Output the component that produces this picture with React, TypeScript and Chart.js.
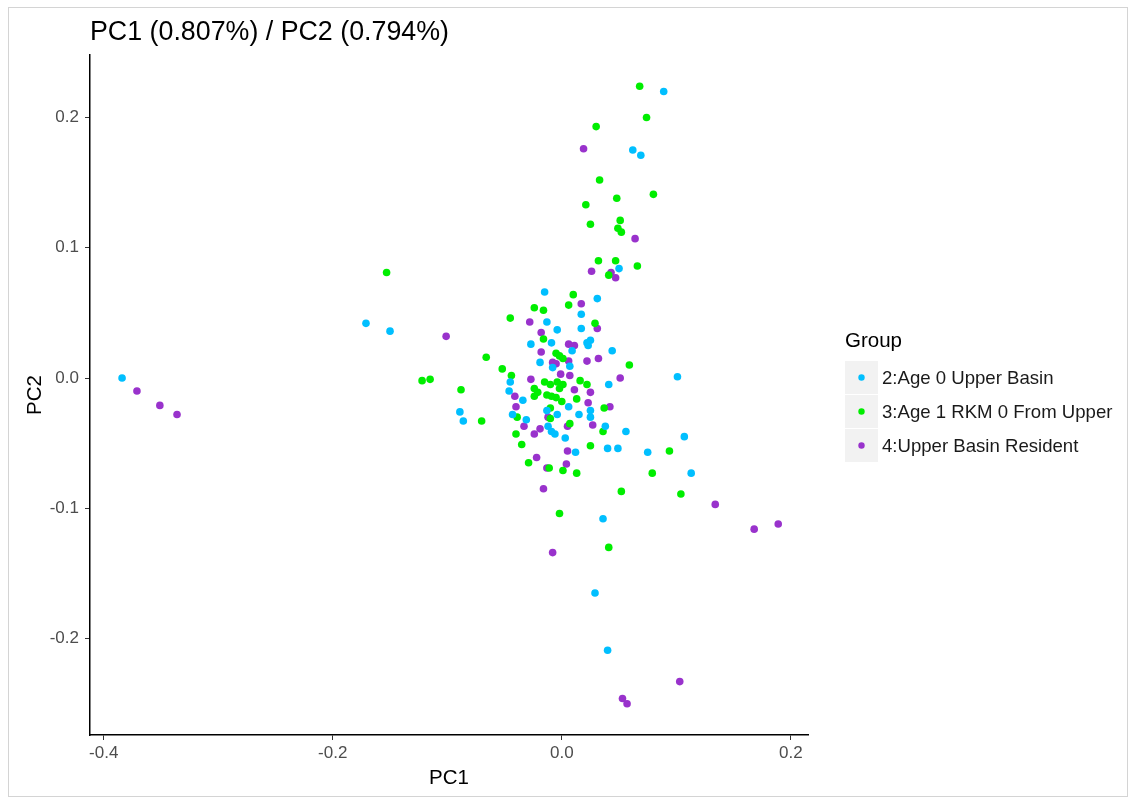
import React, { useEffect, useRef } from "react";
import { Chart, registerables } from "chart.js";

Chart.register(...registerables);

const FONT = '"Liberation Sans", Arial, Helvetica, sans-serif';

const chartTitle = "PC1 (0.807%) / PC2 (0.794%)";
const xAxisTitle = "PC1";
const yAxisTitle = "PC2";
const legendTitle = "Group";

const groupLabels = ["2:Age 0 Upper Basin", "3:Age 1 RKM 0 From Upper", "4:Upper Basin Resident"];
const groupColors = ["#00BFFF", "#00EE00", "#9932CC"];

const xTicks = [-0.4, -0.2, 0.0, 0.2];
const yTicks = [-0.2, -0.1, 0.0, 0.1, 0.2];
const xRange = [-0.412, 0.215];
const yRange = [-0.274, 0.248];

// 2:Age 0 Upper Basin
const blueX = [-0.015, 0.031, 0.017, -0.013, -0.004, 0.017, -0.027, -0.009, 0.022, 0.025, 0.023, 0.009, 0.044, -0.019, -0.008, 0.007, -0.045, -0.046, -0.034, 0.041, 0.006, -0.013, -0.004, 0.015, 0.025, 0.025, -0.043, -0.031, -0.012, -0.009, -0.006, 0.003, 0.038, 0.056, 0.040, 0.049, 0.012, 0.075, 0.089, 0.062, 0.069, 0.050, -0.384, -0.171, -0.150, -0.089, -0.086, 0.101, 0.107, 0.113, 0.036, 0.029, 0.040];
const blueY = [0.066, 0.061, 0.049, 0.043, 0.037, 0.038, 0.026, 0.027, 0.027, 0.029, 0.025, 0.021, 0.021, 0.012, 0.008, 0.009, -0.003, -0.010, -0.017, -0.005, -0.022, -0.025, -0.028, -0.028, -0.025, -0.030, -0.028, -0.032, -0.037, -0.041, -0.043, -0.046, -0.037, -0.041, -0.054, -0.054, -0.057, -0.057, 0.220, 0.175, 0.171, 0.084, 0.000, 0.042, 0.036, -0.026, -0.033, 0.001, -0.045, -0.073, -0.108, -0.165, -0.209];

// 3:Age 1 RKM 0 From Upper
const greenX = [0.010, -0.024, -0.016, 0.006, -0.045, 0.029, -0.016, -0.005, -0.002, 0.001, -0.066, -0.052, -0.044, 0.059, -0.015, -0.010, -0.004, 0.001, -0.002, -0.024, -0.021, 0.016, -0.024, -0.013, -0.009, -0.005, 0.000, 0.013, 0.022, -0.010, -0.070, 0.037, -0.039, -0.010, 0.007, 0.036, -0.040, -0.035, 0.025, -0.029, 0.001, 0.013, -0.011, 0.068, 0.074, 0.030, 0.033, 0.048, 0.080, 0.021, 0.025, 0.051, 0.049, 0.052, 0.032, 0.047, 0.066, 0.041, -0.153, -0.122, -0.115, -0.088, 0.094, 0.079, 0.052, 0.104, -0.002, 0.041];
const greenY = [0.064, 0.054, 0.052, 0.056, 0.046, 0.042, 0.030, 0.019, 0.017, 0.015, 0.016, 0.007, 0.002, 0.010, -0.003, -0.005, -0.003, -0.005, -0.008, -0.008, -0.011, -0.002, -0.014, -0.013, -0.014, -0.015, -0.018, -0.016, -0.005, -0.023, -0.033, -0.023, -0.030, -0.031, -0.035, -0.041, -0.043, -0.051, -0.052, -0.065, -0.071, -0.073, -0.069, 0.224, 0.200, 0.193, 0.152, 0.138, 0.141, 0.133, 0.118, 0.121, 0.115, 0.112, 0.090, 0.090, 0.086, 0.079, 0.081, -0.002, -0.001, -0.009, -0.056, -0.073, -0.087, -0.089, -0.104, -0.130];

// 4:Upper Basin Resident
const purpleX = [0.017, -0.028, 0.031, -0.018, 0.006, 0.011, -0.018, -0.008, -0.005, 0.006, 0.022, 0.032, -0.001, 0.007, -0.027, 0.051, 0.011, 0.025, -0.041, -0.040, 0.023, 0.042, -0.012, 0.027, 0.005, -0.033, -0.019, -0.024, 0.005, -0.022, 0.004, -0.013, 0.019, 0.064, 0.026, 0.043, 0.047, -0.371, -0.351, -0.336, -0.101, 0.134, 0.168, 0.189, -0.016, -0.008, 0.103, 0.053, 0.057];
const purpleY = [0.057, 0.043, 0.038, 0.035, 0.026, 0.025, 0.020, 0.012, 0.011, 0.013, 0.013, 0.015, 0.003, 0.002, -0.001, 0.000, -0.009, -0.011, -0.014, -0.022, -0.019, -0.022, -0.030, -0.036, -0.037, -0.037, -0.039, -0.043, -0.056, -0.061, -0.066, -0.069, 0.176, 0.107, 0.082, 0.081, 0.077, -0.010, -0.021, -0.028, 0.032, -0.097, -0.116, -0.112, -0.085, -0.134, -0.233, -0.246, -0.250];

const groupXs = [blueX, greenX, purpleX];
const groupYs = [blueY, greenY, purpleY];

const ggLegend = {
  id: "ggLegend",
  afterDraw(chart: any) {
    const { ctx, chartArea } = chart;
    const mid = (chartArea.top + chartArea.bottom) / 2;
    const left = chartArea.right + 37;
    ctx.save();
    ctx.textAlign = "left";
    ctx.textBaseline = "middle";
    ctx.fillStyle = "#000000";
    ctx.font = `20.5px ${FONT}`;
    ctx.fillText(legendTitle, left, mid - 53.5);
    chart.data.datasets.forEach((ds: any, i: number) => {
      const top = mid - 34 + i * 34;
      ctx.fillStyle = "#F2F2F2";
      ctx.fillRect(left, top, 33, 33);
      const cy = top + 16.5;
      ctx.beginPath();
      ctx.arc(left + 16.5, cy, 3.2, 0, Math.PI * 2);
      ctx.fillStyle = ds.backgroundColor;
      ctx.fill();
      ctx.fillStyle = "#1A1A1A";
      ctx.font = `18.6px ${FONT}`;
      ctx.fillText(ds.label, left + 37, cy + 1.5);
    });
    ctx.restore();
  },
};

export default function App() {
  const canvasRef = useRef<HTMLCanvasElement | null>(null);

  useEffect(() => {
    if (!canvasRef.current) return;
    const datasets = groupLabels.map((label, g) => ({
      label,
      data: groupXs[g].map((x, i) => ({ x, y: groupYs[g][i] })),
      backgroundColor: groupColors[g],
      borderColor: groupColors[g],
      borderWidth: 0,
      pointRadius: 3.8,
      pointHoverRadius: 3.8,
    }));
    const chart = new Chart(canvasRef.current, {
      type: "scatter",
      data: { datasets },
      plugins: [ggLegend],
      options: {
        responsive: false,
        animation: false,
        devicePixelRatio: 1,
        layout: { padding: { left: 0, top: 0, right: 323, bottom: 0 } },
        plugins: {
          legend: { display: false },
          tooltip: { enabled: false },
          title: {
            display: true,
            text: chartTitle,
            align: "start",
            fullSize: false,
            color: "#000000",
            font: { family: FONT, size: 26.8, weight: "normal", lineHeight: 1.2 },
            padding: { top: 17, bottom: 5.8 },
          },
        },
        scales: {
          x: {
            type: "linear",
            position: "bottom",
            min: xRange[0],
            max: xRange[1],
            afterBuildTicks: (scale: any) => {
              scale.ticks = xTicks.map((v) => ({ value: v }));
            },
            afterFit: (scale: any) => {
              scale.height = 66;
            },
            ticks: {
              callback: (v: any) => Number(v).toFixed(1),
              color: "#4D4D4D",
              font: { family: FONT, size: 17 },
              padding: 3,
              maxRotation: 0,
            },
            grid: {
              display: true,
              drawOnChartArea: false,
              drawTicks: true,
              tickLength: 5,
              tickColor: "#333333",
              tickWidth: 1,
            },
            border: { display: true, color: "#000000", width: 1.5 },
            title: {
              display: true,
              text: xAxisTitle,
              color: "#000000",
              font: { family: FONT, size: 20.5 },
              padding: { top: 0, bottom: 10 },
            },
          },
          y: {
            type: "linear",
            position: "left",
            min: yRange[0],
            max: yRange[1],
            afterBuildTicks: (scale: any) => {
              scale.ticks = yTicks.map((v) => ({ value: v }));
            },
            afterFit: (scale: any) => {
              scale.width = 90;
            },
            ticks: {
              callback: (v: any) => Number(v).toFixed(1),
              color: "#4D4D4D",
              font: { family: FONT, size: 17 },
              padding: 6,
            },
            grid: {
              display: true,
              drawOnChartArea: false,
              drawTicks: true,
              tickLength: 5,
              tickColor: "#333333",
              tickWidth: 1,
            },
            border: { display: true, color: "#000000", width: 1.5 },
            title: {
              display: true,
              text: yAxisTitle,
              color: "#000000",
              font: { family: FONT, size: 20.5 },
              padding: { top: 23, bottom: 0 },
            },
          },
        },
      },
    } as any);
    return () => chart.destroy();
  }, []);

  return (
    <div style={{ position: "absolute", left: 0, top: 0, width: 1131, height: 801, background: "#FFFFFF" }}>
      <canvas ref={canvasRef} width={1131} height={801} style={{ display: "block", width: 1131, height: 801 }} />
      <div
        style={{
          position: "absolute",
          left: 8,
          top: 7,
          width: 1120,
          height: 790,
          boxSizing: "border-box",
          border: "1px solid #D4D4D4",
          pointerEvents: "none",
        }}
      />
    </div>
  );
}
